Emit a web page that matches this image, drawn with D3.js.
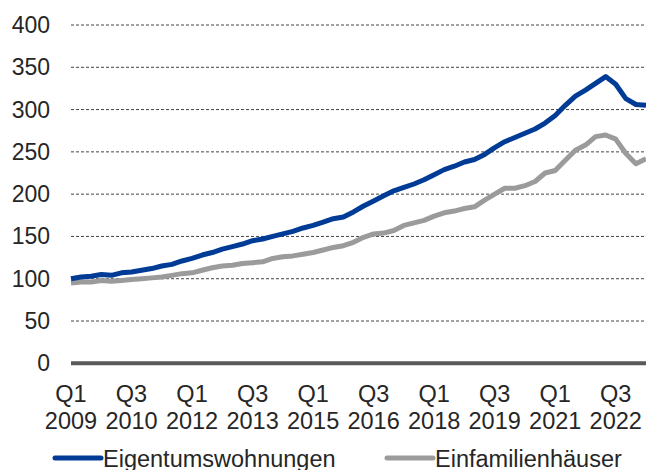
<!DOCTYPE html>
<html>
<head>
<meta charset="utf-8">
<script src="https://cdn.jsdelivr.net/npm/d3@7"></script>
<style>
  body { margin: 0; background: #fff; }
  svg { font-family: "Liberation Sans", Arial, sans-serif; }
</style>
</head>
<body>
<div id="chart"></div>
<script>
// quarters Q1 2009 .. Q2 2023
var quarters = [];
for (var y = 2009; y <= 2023; y++) {
  for (var q = 1; q <= 4; q++) {
    if (y === 2023 && q > 2) break;
    quarters.push("Q" + q + " " + y);
  }
}

var seriesNames = ["Eigentumswohnungen", "Einfamilienhäuser"];
var seriesColors = ["#003b95", "#9b9b9b"];

var eigentum = [100, 102, 103, 105, 104, 107, 108, 110, 112, 115, 117, 121, 124, 128, 131, 135,
  138, 141, 145, 147, 150, 153, 156, 160, 163, 167, 171, 173, 179, 186, 192, 198,
  204, 208, 212, 217, 223, 229, 233, 238, 241, 247, 255, 262, 267, 272, 277, 284,
  293, 305, 316, 323, 331, 339, 330, 313, 306, 305];

var einfam = [95, 96, 96, 98, 97, 98, 99, 100, 101, 102, 104, 106, 107, 110, 113, 115,
  116, 118, 119, 120, 124, 126, 127, 129, 131, 134, 137, 139, 143, 149, 153, 154,
  157, 163, 166, 169, 174, 178, 180, 183, 185, 193, 200, 207, 207, 210, 215, 225,
  228, 240, 252, 258, 268, 270, 265, 248, 236, 242];

var yTicks = [0, 50, 100, 150, 200, 250, 300, 350, 400];

var width = 646, height = 470;

var svg = d3.select("#chart").append("svg")
    .attr("width", width)
    .attr("height", height);

var x = d3.scalePoint()
    .domain(quarters)
    .range([71, 646]);

var yScale = d3.scaleLinear()
    .domain([0, 400])
    .range([363.3, 25]);

// grid
svg.append("g")
    .selectAll("line")
    .data(yTicks.filter(function(d) { return d > 0; }))
    .enter().append("line")
    .attr("x1", 71)
    .attr("x2", 646)
    .attr("y1", function(d) { return yScale(d); })
    .attr("y2", function(d) { return yScale(d); })
    .attr("stroke", "#444")
    .attr("stroke-width", 1)
    .attr("stroke-dasharray", "3,2");

// y labels
svg.append("g")
    .selectAll("text")
    .data(yTicks)
    .enter().append("text")
    .attr("x", 50)
    .attr("y", function(d) { return yScale(d); })
    .attr("dy", "0.35em")
    .attr("text-anchor", "end")
    .attr("font-size", 23)
    .attr("fill", "#262626")
    .text(function(d) { return d; });

// x labels, every 6th quarter
var tickQuarters = quarters.filter(function(d, i) { return i % 6 === 0; });
var xl = svg.append("g")
    .selectAll("text")
    .data(tickQuarters)
    .enter().append("text")
    .attr("x", function(d) { return x(d); })
    .attr("text-anchor", "middle")
    .attr("font-size", 23.5)
    .attr("fill", "#262626");
xl.append("tspan")
    .attr("x", function(d) { return x(d); })
    .attr("y", 401.5)
    .text(function(d) { return d.split(" ")[0]; });
xl.append("tspan")
    .attr("x", function(d) { return x(d); })
    .attr("y", 428.5)
    .text(function(d) { return d.split(" ")[1]; });

// lines
var line = d3.line()
    .x(function(d, i) { return x(quarters[i]); })
    .y(function(d) { return yScale(d); });

[einfam, eigentum].forEach(function(vals, k) {
  svg.append("path")
      .datum(vals)
      .attr("d", line)
      .attr("fill", "none")
      .attr("stroke", k === 0 ? seriesColors[1] : seriesColors[0])
      .attr("stroke-width", 5)
      .attr("stroke-linejoin", "round");
});

// zero axis
svg.append("line")
    .attr("x1", 71)
    .attr("x2", 646)
    .attr("y1", yScale(0))
    .attr("y2", yScale(0))
    .attr("stroke", "#595959")
    .attr("stroke-width", 4);

// legend
var legendX = [55, 387];
seriesNames.forEach(function(name, i) {
  svg.append("line")
      .attr("x1", legendX[i])
      .attr("x2", legendX[i] + 46)
      .attr("y1", 458)
      .attr("y2", 458)
      .attr("stroke", seriesColors[i])
      .attr("stroke-width", 5)
      .attr("stroke-linecap", "round");
  svg.append("text")
      .attr("x", legendX[i] + 48)
      .attr("y", 466.5)
      .attr("font-size", 23.5)
      .attr("fill", "#262626")
      .text(name);
});
</script>
</body>
</html>
